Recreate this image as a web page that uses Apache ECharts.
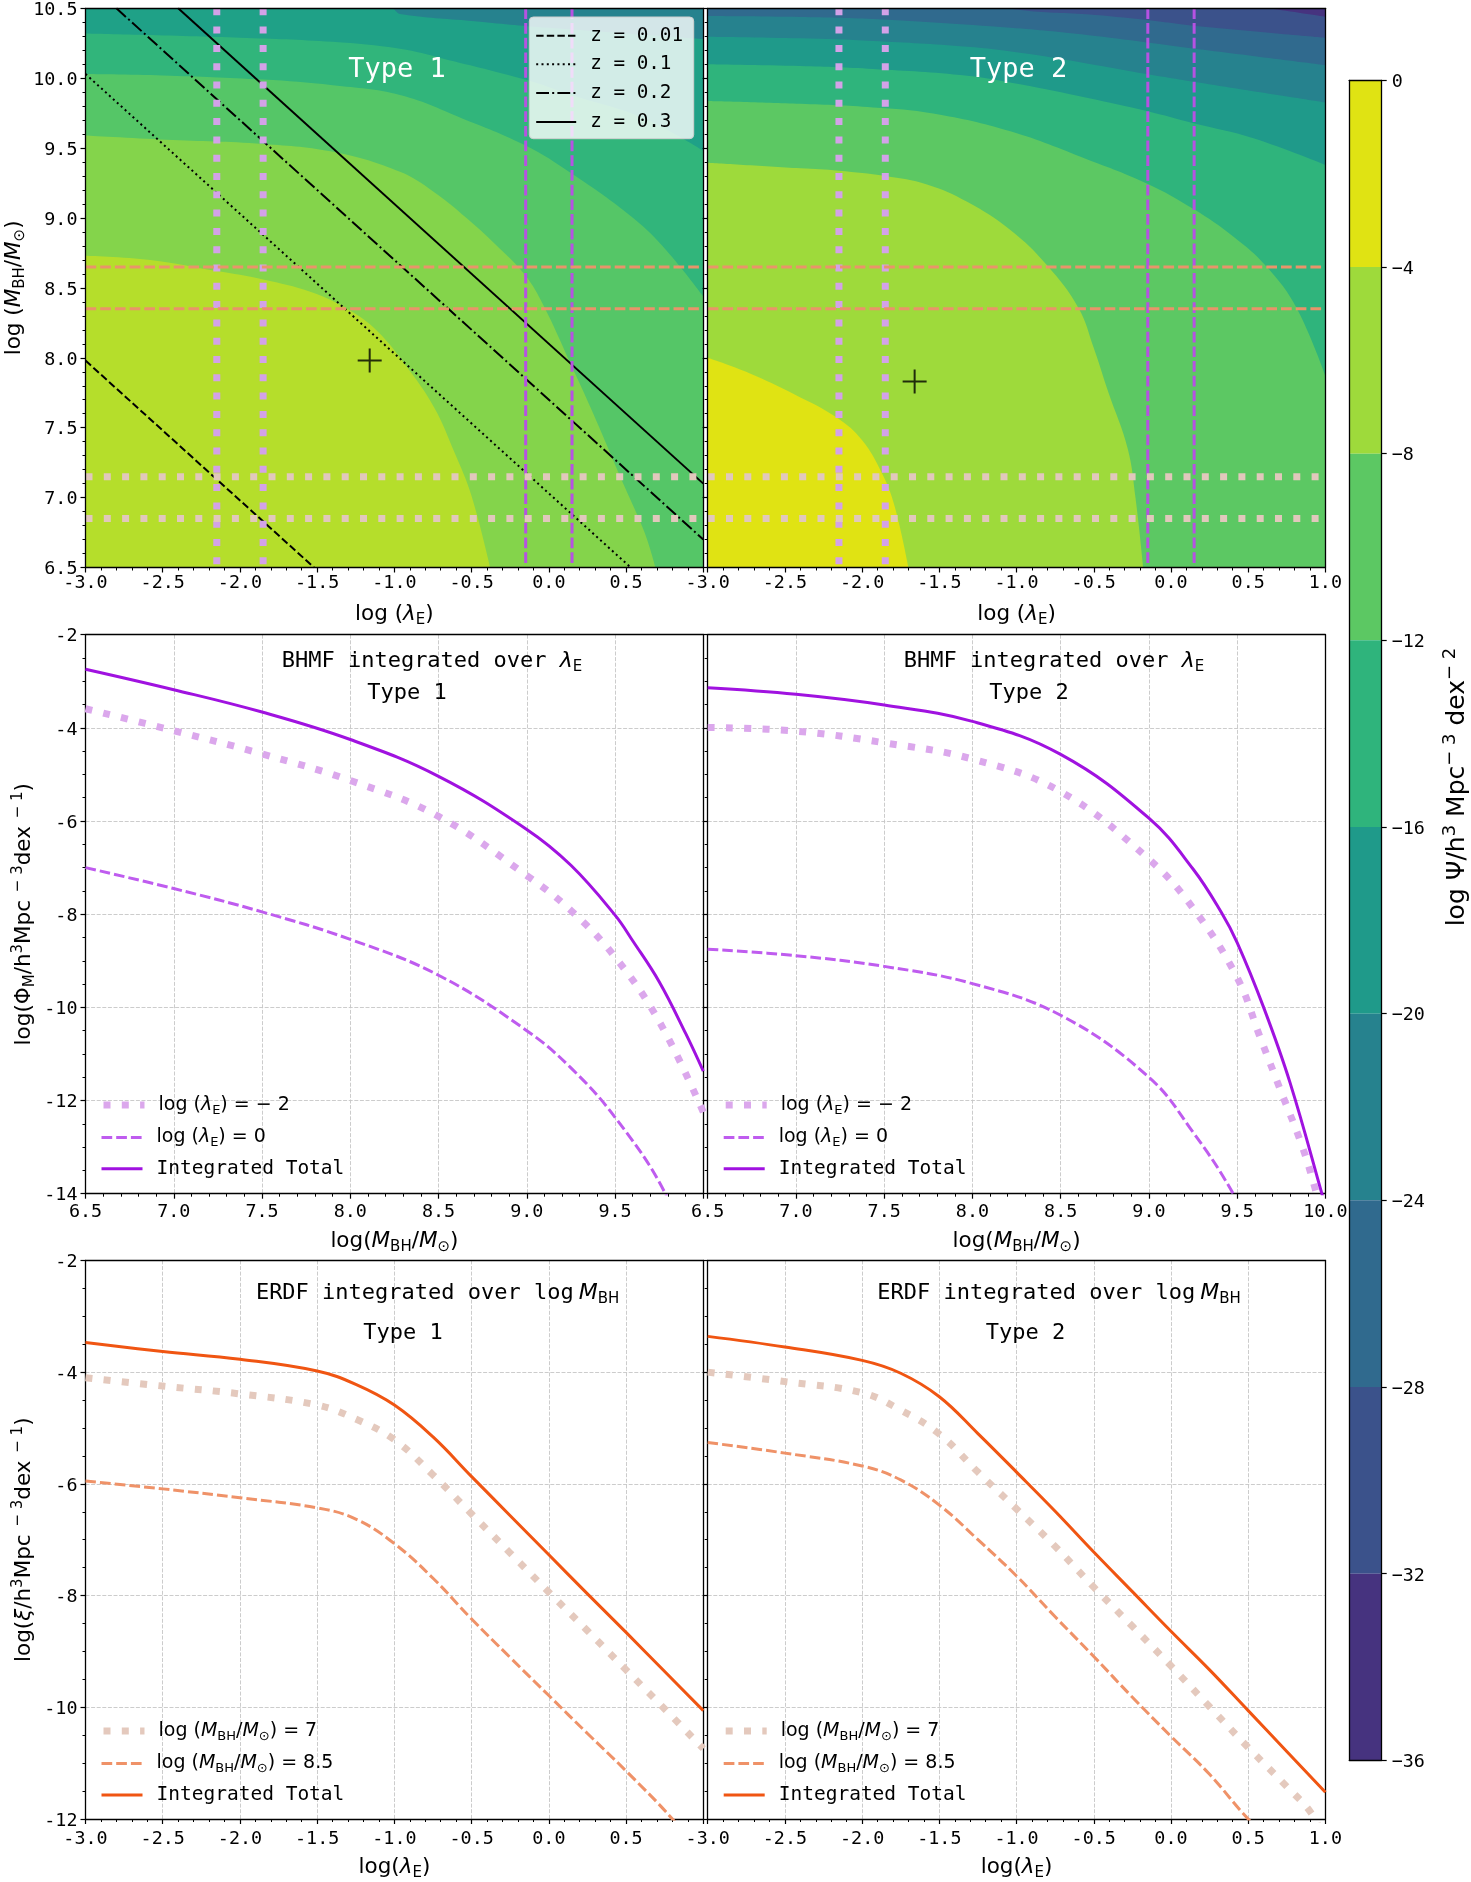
<!DOCTYPE html>
<html><head><meta charset="utf-8">
<style>html,body{margin:0;padding:0;background:#fff}#c{width:1471px;height:1882px}</style>
<script src="https://cdn.jsdelivr.net/npm/echarts@6/dist/echarts.min.js"></script>
</head><body><div id="c"></div>
<script>
// ---- contour boundaries: the region below each boundary is painted in the listed colour
const type1Top=[[-3,10.5],[1,10.5]];
const type1E=[[-3,10.62],[-1.02,10.5],[-0.964,10.46],[-0.5,10.41],[0,10.36],[0.5,10.32],[1,10.28]];
const type1F=[[-3,10.32],[-2,10.29],[-1.4,10.26],[-0.964,10.21],[-0.684,10.14],[-0.153,9.99],[0.145,9.88],[0.6,9.72],[1,9.48]];
const type1G=[[-3,10.03],[-2.5,10.02],[-1.85,9.99],[-1.4,9.95],[-0.964,9.88],[-0.533,9.70],[-0.153,9.52],[0.145,9.32],[0.546,9.0],[0.76,8.77],[1,8.44]];
const type1H=[[-3,9.59],[-2.48,9.56],[-1.85,9.53],[-1.38,9.47],[-0.964,9.33],[-0.749,9.19],[-0.533,9.0],[-0.317,8.78],[-0.153,8.59],[-0.037,8.38],[0.14,7.96],[0.28,7.62],[0.49,7.08],[0.62,6.75],[0.69,6.5]];
const type1A=[[-3,8.73],[-2.58,8.70],[-2.15,8.62],[-1.85,8.56],[-1.54,8.47],[-1.29,8.34],[-1.11,8.19],[-0.93,7.95],[-0.74,7.64],[-0.61,7.32],[-0.5,7.01],[-0.38,6.5]];
const type1Colors=['#26828e','#1fa187','#31b57b','#55c667','#84d44b','#b5de2b'];

const type2Top=[[-3,10.5],[1,10.5]];
const type2T1=[[-3,10.9],[0,10.6],[0.664,10.495],[1,10.44]];
const type2T2=[[-3,10.8],[-0.977,10.488],[-0.545,10.457],[-0.157,10.416],[0.146,10.376],[1,10.29]];
const type2T3=[[-3,10.445],[-2.4,10.438],[-1.93,10.423],[-1.04,10.36],[-0.545,10.309],[-0.157,10.256],[0.146,10.213],[1,10.094]];
const type2T4=[[-3,10.297],[-2.4,10.285],[-1.93,10.266],[-1.32,10.225],[-0.977,10.182],[-0.545,10.106],[-0.157,10.03],[0.146,9.975],[1,9.827]];
const type2T5=[[-3,10.10],[-2.4,10.087],[-1.93,10.066],[-1.32,10.018],[-0.977,9.956],[-0.545,9.86],[-0.157,9.765],[0.146,9.677],[0.534,9.57],[1,9.379]];
const type2T6=[[-3,9.837],[-2.4,9.817],[-1.93,9.791],[-1.54,9.748],[-1.04,9.62],[-0.545,9.421],[-0.157,9.247],[0.146,9.064],[0.405,8.866],[0.62,8.651],[0.815,8.353],[1,7.87]];
const type2T7=[[-3,9.395],[-2.4,9.355],[-2.15,9.338],[-1.85,9.30],[-1.58,9.24],[-1.32,9.116],[-1.04,8.914],[-0.804,8.663],[-0.6,8.358],[-0.5,8.07],[-0.406,7.755],[-0.28,7.35],[-0.23,7.0],[-0.18,6.5]];
const type2T8=[[-3,8.0],[-2.73,7.89],[-2.44,7.74],[-2.16,7.57],[-2.0,7.41],[-1.87,7.17],[-1.79,6.94],[-1.70,6.5]];
const type2Colors=['#46337f','#3b528b','#306a8e','#26828e','#1f9a8a','#2fb47c','#5cc863','#9eda3b','#e0e313'];

// ---- top row lines and markers
const zLine001=[[-3,7.98],[-1.52,6.5]];
const zLine01=[[-3,10.03],[0.53,6.5]];
const zLine02=[[-2.8,10.5],[1,6.7]];
const zLine03=[[-2.4,10.5],[1,7.1]];
const lambdaDotted=[-2.15,-1.85];
const lambdaDashed=[-0.15,0.15];
const massDashed=[8.65,8.35];
const massDotted=[7.15,6.85];
const peakType1=[[-1.16,7.98]];
const peakType2=[[-1.66,7.83]];

// ---- BHMF curves
const bhmf1Total=[[6.5,-2.74],[7,-3.18],[7.5,-3.66],[8,-4.25],[8.5,-5.04],[9,-6.18],[9.25,-6.95],[9.5,-8.02],[9.6,-8.57],[9.75,-9.45],[9.9,-10.56],[10,-11.37]];
const bhmf1Low=[[6.5,-3.59],[7,-4.06],[7.5,-4.56],[8,-5.13],[8.5,-5.9],[9,-7.17],[9.25,-7.92],[9.5,-8.92],[9.75,-10.3],[10,-12.25]];
const bhmf1High=[[6.5,-7.0],[7,-7.45],[7.5,-7.95],[8,-8.54],[8.5,-9.31],[9,-10.5],[9.25,-11.3],[9.5,-12.36],[9.78,-13.96],[10,-16]];
const bhmf2Total=[[6.5,-3.14],[7,-3.28],[7.5,-3.51],[8,-3.86],[8.5,-4.57],[9,-5.94],[9.25,-7.03],[9.41,-7.96],[9.5,-8.61],[9.65,-10.0],[9.8,-11.62],[9.98,-14],[10,-14.3]];
const bhmf2Low=[[6.5,-3.99],[7,-4.07],[7.5,-4.32],[8,-4.67],[8.5,-5.37],[9,-6.82],[9.25,-7.87],[9.5,-9.36],[9.63,-10.64],[9.75,-11.82],[9.87,-13.0],[9.95,-14],[10,-14.7]];
const bhmf2High=[[6.5,-8.75],[7,-8.89],[7.5,-9.12],[8,-9.49],[8.5,-10.17],[9,-11.5],[9.25,-12.68],[9.47,-13.95],[9.6,-15]];

// ---- ERDF curves
const erdf1Total=[[-3,-3.47],[-2.5,-3.63],[-2,-3.77],[-1.5,-3.98],[-1.25,-4.22],[-1,-4.59],[-0.75,-5.16],[-0.5,-5.87],[-0.25,-6.57],[0,-7.27],[0.25,-7.97],[0.5,-8.66],[0.75,-9.36],[1,-10.06]];
const erdf1Low=[[-3,-4.1],[-2.5,-4.25],[-2,-4.39],[-1.5,-4.59],[-1.25,-4.84],[-1,-5.21],[-0.75,-5.84],[-0.5,-6.54],[-0.25,-7.24],[0,-7.94],[0.25,-8.63],[0.5,-9.33],[0.75,-10.03],[1,-10.74]];
const erdf1High=[[-3,-5.95],[-2.5,-6.09],[-2,-6.25],[-1.5,-6.43],[-1.25,-6.63],[-1,-7.07],[-0.75,-7.69],[-0.5,-8.42],[-0.25,-9.11],[0,-9.79],[0.25,-10.47],[0.5,-11.14],[0.8,-12],[1,-12.7]];
const erdf2Total=[[-3,-3.36],[-2.5,-3.55],[-2,-3.79],[-1.75,-4.02],[-1.5,-4.44],[-1.25,-5.1],[-1,-5.79],[-0.75,-6.49],[-0.5,-7.22],[-0.25,-7.93],[0,-8.64],[0.25,-9.33],[0.5,-10.06],[0.75,-10.79],[1,-11.52]];
const erdf2Low=[[-3,-4.0],[-2.5,-4.17],[-2,-4.37],[-1.75,-4.68],[-1.5,-5.11],[-1.25,-5.79],[-1,-6.45],[-0.75,-7.12],[-0.5,-7.85],[-0.25,-8.55],[0,-9.26],[0.25,-9.99],[0.5,-10.72],[0.75,-11.42],[0.91,-11.9],[1,-12.4]];
const erdf2High=[[-3,-5.26],[-2.5,-5.45],[-2,-5.68],[-1.75,-5.93],[-1.5,-6.38],[-1.25,-7.0],[-1,-7.65],[-0.75,-8.38],[-0.5,-9.09],[-0.25,-9.82],[0,-10.52],[0.25,-11.2],[0.5,-12],[1,-13.4]];

// ---- colour bar
const colorbarLevels=[0,-4,-8,-12,-16,-20,-24,-28,-32,-36];
const colorbarColors=['#e0e313','#9eda3b','#5cc863','#2fb47c','#1f9a8a','#26828e','#306a8e','#3b528b','#46337f'];

const SANS='DejaVu Sans', MONO='DejaVu Sans Mono';
const TICK=18.4, NAME=21.5;
const gridX=[[85.5,617.8],[707.7,617.7]];
const gridY=[[8.3,559.2],[634.7,559],[1260.4,559.6]];
const xLabelMargin=[7,9.5,11], xNameGap=[33,34,35];

function rich(size,monoSize){
  const st=Math.round(size*0.7);
  return {
    n:{fontFamily:SANS,fontSize:size,lineHeight:Math.round(size*1.25),color:'#000'},
    i:{fontFamily:SANS,fontSize:size,lineHeight:Math.round(size*1.25),fontStyle:'italic',color:'#000'},
    s:{fontFamily:SANS,fontSize:st,lineHeight:st,verticalAlign:'bottom',color:'#000'},
    u:{fontFamily:SANS,fontSize:st,lineHeight:st,verticalAlign:'top',color:'#000'},
    m:{fontFamily:MONO,fontSize:monoSize||size,lineHeight:Math.round((monoSize||size)*1.25),color:'#000'},
    p:{width:9,fontSize:8},
    q:{width:5,fontSize:8}
  };
}
const tickRich={t:{fontFamily:MONO,fontSize:TICK,color:'#000',padding:[4,0,0,0]}};
const LINE='#000';
function axisPair(i,row,cfg){
  const [xMin,xMax,xStep,xSub,yMin,yMax,yStep,ySub,showGrid,xName,yName,hideLastX,showY]=cfg;
  const split={show:showGrid,lineStyle:{color:'#c6c6c6',width:0.9,type:[4,1.6]}};
  const axisZ=5;
  const xs=[{gridIndex:i,type:'value',min:xMin,max:xMax,interval:xStep,position:'bottom',z:axisZ,
      axisLine:{show:true,onZero:false,lineStyle:{color:LINE,width:1.3}},
      axisTick:{show:true,length:5,lineStyle:{color:LINE,width:1.2}},
      minorTick:{show:true,splitNumber:xSub,length:3,lineStyle:{color:LINE,width:1}},
      minorSplitLine:{show:false},splitLine:split,
      axisLabel:{fontFamily:MONO,fontSize:TICK,color:'#000',margin:xLabelMargin[row],showMinLabel:true,showMaxLabel:true,hideOverlap:false,
        formatter:v=>(hideLastX&&v===xMax)?'':v.toFixed(1)},
      name:xName,nameLocation:'middle',nameGap:xNameGap[row],nameMoveOverlap:false,nameTextStyle:{rich:rich(NAME)}},
    {gridIndex:i,type:'value',min:xMin,max:xMax,position:'top',z:axisZ,
      axisLine:{show:true,onZero:false,lineStyle:{color:LINE,width:1.3}},axisTick:{show:false},axisLabel:{show:false},splitLine:{show:false}}];
  const ys=[{gridIndex:i,type:'value',min:yMin,max:yMax,interval:yStep,position:'left',z:axisZ,
      axisLine:{show:true,onZero:false,lineStyle:{color:LINE,width:1.3}},
      axisTick:{show:true,length:5,lineStyle:{color:LINE,width:1.2}},
      minorTick:{show:true,splitNumber:ySub,length:3,lineStyle:{color:LINE,width:1}},
      minorSplitLine:{show:false},splitLine:split,
      axisLabel:{show:showY,margin:8,rich:tickRich,showMinLabel:true,showMaxLabel:true,hideOverlap:false,
        formatter:v=>'{t|'+(row===0?v.toFixed(1):String(v))+'}'},
      name:yName,nameLocation:'middle',nameGap:row===0?58:48,nameMoveOverlap:false,nameTextStyle:{rich:rich(NAME)}},
    {gridIndex:i,type:'value',min:yMin,max:yMax,position:'right',z:axisZ,
      axisLine:{show:true,onZero:false,lineStyle:{color:LINE,width:1.3}},axisTick:{show:false},axisLabel:{show:false},splitLine:{show:false}}];
  return {xs,ys};
}

const grids=[],xAxes=[],yAxes=[],series=[],legends=[],titles=[];
const nameE='{n|log (}{i|λ}{s|E}{n|)}';
const nameM='{n|log(}{i|M}{s|BH}{n|/}{i|M}{s|⊙}{n|)}';
const nameL='{n|log(}{i|λ}{s|E}{n|)}';
const yNames=['{n|log (}{i|M}{s|BH}{n|/}{i|M}{s|⊙}{n|)}','{n|log(Φ}{s|M}{n|/h}{u|3}{n|Mpc}{u|\u2009 − 3}{n|dex}{u|\u2009 − 1}{n|)}','{n|log(}{i|ξ}{n|/h}{u|3}{n|Mpc}{u|\u2009 − 3}{n|dex}{u|\u2009 − 1}{n|)}'];
const rowsCfg=[
  [-3,1,0.5,5,6.5,10.5,0.5,5,false,nameE],
  [6.5,10,0.5,5,-14,-2,2,4,true,nameM],
  [-3,1,0.5,5,-12,-2,2,4,true,nameL]
];
rowsCfg.forEach((c,row)=>{
  [0,1].forEach(col=>{
    const i=row*2+col;
    grids.push({left:gridX[col][0],width:gridX[col][1],top:gridY[row][0],height:gridY[row][1]});
    const a=axisPair(i,row,[c[0],c[1],c[2],c[3],c[4],c[5],c[6],c[7],c[8],c[9],col===0?yNames[row]:'',col===0,col===0]);
    xAxes.push(...a.xs);yAxes.push(...a.ys);
  });
});
function ax(i){return {xAxisIndex:i*2,yAxisIndex:i*2};}
const base={animation:false,silent:true,symbol:'none',showSymbol:false};
function contour(i,b,color,k){
  series.push({...base,...ax(i),type:'line',name:'contour'+i+'-'+k,data:b,smooth:0.4,z:1,
    lineStyle:{width:0,opacity:0},areaStyle:{color,opacity:1,origin:'start'}});
}
[type1Top,type1E,type1F,type1G,type1H,type1A].forEach((b,k)=>contour(0,b,type1Colors[k],k));
[type2Top,type2T1,type2T2,type2T3,type2T4,type2T5,type2T6,type2T7,type2T8].forEach((b,k)=>contour(1,b,type2Colors[k],k));
function line(i,name,data,color,width,type,z,smooth){
  series.push({...base,...ax(i),type:'line',name,data,smooth:smooth?0.4:false,z:z||3,
    lineStyle:{color,width,type,cap:'butt',join:'miter',opacity:1},itemStyle:{color}});
}
const DOT=[7,11.3],DASH=[10.7,4];
line(0,'z = 0.01',zLine001,'#000',2,[7.4,3.2],3);
line(0,'z = 0.1',zLine01,'#000',2,[2,3.3],3);
line(0,'z = 0.2',zLine02,'#000',2,[12.8,3.2,2,3.2],3);
line(0,'z = 0.3',zLine03,'#000',2,'solid',3);
[0,1].forEach(i=>{
  lambdaDotted.forEach((v,k)=>line(i,'lamDot'+i+k,[[v,10.5],[v,6.5]],'#d3a2e8',7,DOT,3));
  lambdaDashed.forEach((v,k)=>line(i,'lamDash'+i+k,[[v,10.5],[v,6.5]],'#b652e2',3,DASH,3));
  massDotted.forEach((v,k)=>line(i,'massDot'+i+k,[[-3,v],[1,v]],'#e1c8bc',7,DOT,3));
  massDashed.forEach((v,k)=>line(i,'massDash'+i+k,[[-3,v],[1,v]],'#e9946a',3,DASH,3));
});
const PLUS='path://M-1,-12 H1 V-1 H12 V1 H1 V12 H-1 V1 H-12 V-1 H-1 Z';
[[0,peakType1],[1,peakType2]].forEach(([i,d])=>series.push({animation:false,silent:true,...ax(i),type:'scatter',name:'peak'+i,data:d,symbol:PLUS,symbolSize:24,itemStyle:{color:'#000'},z:4}));

const curveSets=[
  [2,bhmf1Low,bhmf1High,bhmf1Total,'#dba7ec','#bf5cef','#a012e0','bhmf1'],
  [3,bhmf2Low,bhmf2High,bhmf2Total,'#dba7ec','#bf5cef','#a012e0','bhmf2'],
  [4,erdf1Low,erdf1High,erdf1Total,'#e4c9bd','#ef9268','#f05512','erdf1'],
  [5,erdf2Low,erdf2High,erdf2Total,'#e4c9bd','#ef9268','#f05512','erdf2']
];
const legendText={'z = 0.01':'{m|z = 0.01}','z = 0.1':'{m|z = 0.1}','z = 0.2':'{m|z = 0.2}','z = 0.3':'{m|z = 0.3}'};
const hideSymbol={opacity:0};
function addLegend(name,left,centre,width,r){
  legends.push({data:[name],orient:'vertical',left,top:centre-7,padding:0,itemWidth:width,itemHeight:14,
    selectedMode:false,z:10,itemStyle:hideSymbol,lineStyle:{width:'inherit'},
    formatter:n=>'{p| }'+legendText[n],textStyle:{rich:r}});
}
const legendRows=[[1102.4,1135,1165.7],[1728.5,1761,1792]];
const zLegendRows=[33.3,61.7,90.5,119.5];
curveSets.forEach(([i,lo,hi,tot,c1,c2,c3,key])=>{
  const isB=key.startsWith('bhmf');
  line(i,key+'-low',lo,c1,7,DOT,6,true);
  line(i,key+'-high',hi,c2,3,DASH,6,true);
  line(i,key+'-total',tot,c3,3,'solid',6,true);
  legendText[key+'-low']=isB?'{n|log (}{i|λ}{s|E}{n|) = − 2}':'{n|log (}{i|M}{s|BH}{n|/}{i|M}{s|⊙}{n|) = 7}';
  legendText[key+'-high']=isB?'{n|log (}{i|λ}{s|E}{n|) = 0}':'{n|log (}{i|M}{s|BH}{n|/}{i|M}{s|⊙}{n|) = 8.5}';
  legendText[key+'-total']='{m|Integrated Total}';
  const col=i%2,ys=legendRows[isB?0:1],x=col===0?100:722.2,r=rich(19,19.5);
  [key+'-low',key+'-high',key+'-total'].forEach((n,k)=>addLegend(n,x,ys[k],41,r));
});
['z = 0.01','z = 0.1','z = 0.2','z = 0.3'].forEach((n,k)=>addLegend(n,535.2,zLegendRows[k],40,rich(18,19.3)));

function title(text,x,y,size,color){
  const r=rich(size,size);
  Object.values(r).forEach(o=>{if(color)o.color=color;});
  titles.push({text,left:x,top:y,padding:0,textAlign:'center',textVerticalAlign:'middle',z:11,
    textStyle:{fontFamily:MONO,fontSize:size,fontWeight:'normal',color:color||'#000',rich:r}});
}
title('{m|Type 1}',397,69.8,27,'#fff');
title('{m|Type 2}',1018.6,69.8,27,'#fff');
title('{m|BHMF integrated over }{i|λ}{s|E}',432,660.8,22);
title('{m|Type 1}',407,693,22);
title('{m|BHMF integrated over }{i|λ}{s|E}',1054,660.8,22);
title('{m|Type 2}',1029,693,22);
title('{m|ERDF integrated over log}{q| }{i|M}{s|BH}',437.6,1293,22);
title('{m|Type 1}',403,1333,22);
title('{m|ERDF integrated over log}{q| }{i|M}{s|BH}',1059,1293,22);
title('{m|Type 2}',1025.5,1333,22);

// colour bar grid
const cb=grids.length;
grids.push({left:1349.3,width:32.4,top:80.3,height:1680.1});
xAxes.push({gridIndex:cb,type:'category',data:['band'],position:'bottom',z:5,axisLine:{show:true,onZero:false,lineStyle:{color:LINE,width:1.3}},axisTick:{show:false},axisLabel:{show:false},splitLine:{show:false}});
xAxes.push({gridIndex:cb,type:'category',data:['band'],position:'top',z:5,axisLine:{show:true,onZero:false,lineStyle:{color:LINE,width:1.3}},axisTick:{show:false},axisLabel:{show:false},splitLine:{show:false}});
yAxes.push({gridIndex:cb,type:'value',min:-36,max:0,interval:4,position:'right',z:5,
  axisLine:{show:true,onZero:false,lineStyle:{color:LINE,width:1.3}},axisTick:{show:true,length:5,lineStyle:{color:LINE,width:1.2}},splitLine:{show:false},
  axisLabel:{margin:10,rich:tickRich,showMinLabel:true,showMaxLabel:true,formatter:v=>'{t|'+(v===0?'0':'−'+Math.abs(v))+'}'}});
yAxes.push({gridIndex:cb,type:'value',min:-36,max:0,position:'left',z:5,axisLine:{show:true,onZero:false,lineStyle:{color:LINE,width:1.3}},axisTick:{show:false},axisLabel:{show:false},splitLine:{show:false}});
colorbarColors.forEach((c,k)=>series.push({type:'bar',name:'band'+k,animation:false,silent:true,xAxisIndex:cb*2,yAxisIndex:cb*2,stack:'cb',barWidth:'100%',
  data:[colorbarLevels[k+1]-colorbarLevels[k]],itemStyle:{color:c},z:1}));

const chart=echarts.init(document.getElementById('c'),null,{renderer:'canvas',width:1471,height:1882});
chart.setOption({animation:false,backgroundColor:'#fff',grid:grids,xAxis:xAxes,yAxis:yAxes,series,legend:legends,title:titles,
  graphic:[
    {type:'rect',z:9,silent:true,shape:{x:529.3,y:17,width:164.4,height:121.7,r:4},style:{fill:'rgba(255,255,255,0.8)',stroke:'#cfcfcf',lineWidth:1}},
    {type:'text',x:1457,y:787,rotation:Math.PI/2,z:11,silent:true,
    style:{text:'{n|log Ψ/h}{u|3}{n| Mpc}{u|− 3}{n| dex}{u|− 2}',align:'center',verticalAlign:'middle',rich:rich(25)}}]});
</script></body></html>
